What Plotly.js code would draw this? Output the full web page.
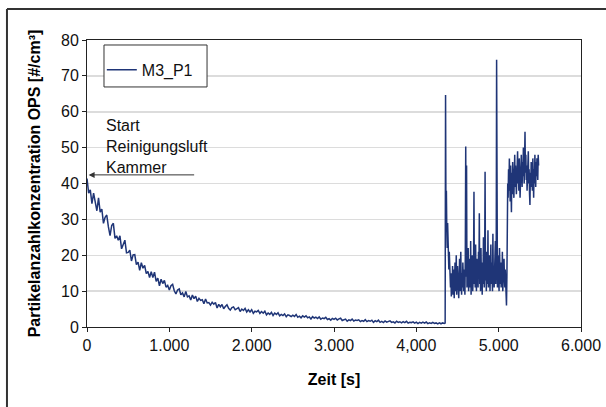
<!DOCTYPE html>
<html>
<head>
<meta charset="utf-8">
<script src="https://cdn.plot.ly/plotly-3.0.1.min.js"></script>
<style>
html,body{margin:0;padding:0;background:#fff;}
#chart{width:606px;height:407px;}
</style>
</head>
<body>
<div id="chart"></div>
<script>
// ---- Data ----
const seriesName = "M3_P1";

// Phase 1: decay after start of cleaning air, one reading every 20 s from t = 0 s
const decayStart = 0;
const decayStep = 20;
const decayValues = [
  41.4, 37.3, 38.2, 34.4, 37.3,  35.2, 32.4, 36.0, 32.0, 32.9,
  28.9, 30.6, 31.2, 27.9, 25.5,  28.3, 28.9, 24.7, 25.4, 24.2,
  25.4, 21.8, 23.3, 24.2, 20.7,  20.8, 21.4, 18.4, 20.1, 20.2,
  17.4, 18.1, 15.8, 17.9, 16.4,  17.2, 14.9, 15.5, 13.8, 15.4,
  13.8, 15.3, 12.7, 13.6, 11.5,  13.3, 12.1, 13.0, 11.1, 11.6,
  10.3, 11.5, 11.9, 10.1, 9.2,   10.3, 10.6, 9.0, 9.5, 8.4,
  9.9, 8.4, 8.7, 7.5, 8.9,       7.9, 8.6, 7.1, 8.0, 7.4,
  7.6, 6.5, 7.8, 6.7, 6.8,       6.1, 6.9, 6.35, 6.85, 5.3,
  6.3, 5.6, 6.3, 5.1, 5.7,       6.2, 5.2, 4.7, 5.4, 5.6,
  4.8, 5.0, 5.4, 4.3, 5.0,       4.6, 5.2, 4.2, 4.8, 4.2,
  4.8, 3.8, 4.4, 4.2, 4.6,       3.8, 4.3, 3.85, 4.4, 3.4,
  3.9, 3.5, 4.1, 3.2, 3.9,       3.5, 3.95, 3.1, 3.5, 3.2,
  3.65, 2.85, 3.4, 3.2, 2.9,     3.3, 2.95, 3.5, 2.7, 3.0,
  2.55, 3.1, 2.75, 3.1, 2.55,    2.8, 2.25, 2.9, 2.5, 2.75,
  2.35, 2.8, 2.15, 2.5, 2.35,    2.7, 2.1, 2.3, 1.9, 2.4,
  2.15, 2.45, 1.95, 2.25, 2.45,  1.8, 2.05, 2.2, 1.6, 2.0,
  1.8, 2.2, 1.65, 1.95, 1.8,     2.0, 1.5, 1.8, 1.6, 2.05,
  1.5, 1.8, 1.6, 1.9, 1.3,       1.75, 1.5, 1.9, 1.3, 1.55,
  1.25, 1.7, 1.35, 1.5, 1.7,     1.28, 1.45, 1.12, 1.63, 1.3,
  1.46, 1.14, 1.5, 1.24, 1.58,   1.08, 1.33, 1.23, 1.45, 1.07,
  1.35, 0.95, 1.28, 1.07, 1.36,  1.1, 1.38, 0.94, 1.15, 0.98,
  1.28, 1.0, 1.14, 0.85, 1.17,   0.9, 1.14, 1.0
];

// Phase 2: disturbed phase with spikes, one reading every 5 s from t = 4345 s
const burstStart = 4345;
const burstStep = 5;
const burstValues = [
  1.0, 1.1, 64.7, 30, 38, 27, 22, 29, 19, 24,
  16, 21, 13, 18, 11, 15, 8.5, 14, 10, 17,
  9, 12, 16, 8, 13, 18, 10, 14, 20, 9,
  12, 17, 11, 15, 8, 13, 19, 10, 16, 21,
  12, 9, 15, 11, 18, 13, 10, 16, 12, 9,
  20, 50.3, 14, 45, 11, 17, 13, 22, 10, 15,
  19, 11, 14, 24, 9, 16, 12, 20, 10, 14,
  17, 37.7, 12, 18, 11, 23, 14, 10, 19, 13,
  16, 11, 21, 14, 31.7, 12, 17, 10, 22, 13,
  15, 9, 18, 12, 25, 14, 11, 19, 43.3, 13,
  16, 10, 21, 15, 12, 27, 11, 17, 13, 20,
  10, 15, 23, 12, 18, 14, 10, 26, 13, 16,
  11, 19, 14, 24, 12, 17, 74.5, 15, 11, 20,
  13, 17, 10, 22, 14, 12, 18, 11, 16, 13,
  21, 10, 15, 12, 19, 14, 11, 16, 13, 10,
  6, 14, 32, 40, 36, 44, 38, 47, 41, 35,
  45, 39, 32, 43, 37, 46, 40, 44, 36, 42,
  48, 39, 45, 41, 37, 46, 43, 49, 40, 44,
  38, 47, 42, 36, 45, 41, 48, 43, 39, 46,
  42, 50, 44, 40, 47, 54.4, 43, 48, 41, 45,
  38, 46, 42, 49, 40, 44, 37, 34, 43, 39,
  46, 41, 45, 38, 47, 42, 36, 44, 40, 48,
  43, 39, 46, 42, 47, 44, 41, 48, 45
];

// Axis tick labels
const xTickVals = [0, 1000, 2000, 3000, 4000, 5000, 6000];
const xTickText = ["0", "1.000", "2.000", "3.000", "4,000", "5.000", "6.000"];
const yTickVals = [0, 10, 20, 30, 40, 50, 60, 70, 80];

// Annotation
const noteText = "Start<br>Reinigungsluft<br>Kammer";
const arrowLevel = 42.4;

// ---- Build trace ----
const t = [], y = [];
decayValues.forEach((v, i) => { t.push(decayStart + i * decayStep); y.push(v); });
burstValues.forEach((v, i) => { t.push(burstStart + i * burstStep); y.push(v); });

const font = "Liberation Sans, Arial, sans-serif";

const trace = {
  x: t, y: y, type: "scatter", mode: "lines", name: seriesName,
  line: {color: "#1f3577", width: 1.5}
};

const layout = {
  width: 606, height: 407,
  margin: {l: 87, r: 25, t: 40, b: 80, autoexpand: false},
  paper_bgcolor: "#fff", plot_bgcolor: "#fff",
  font: {family: font, size: 16, color: "#111"},
  showlegend: true,
  legend: {
    x: 0.03, y: 0.955, xanchor: "left", yanchor: "top",
    bgcolor: "rgba(0,0,0,0)", borderwidth: 0,
    font: {family: font, size: 16, color: "#111"},
    itemwidth: 30
  },
  xaxis: {
    range: [0, 6000], tickmode: "array", tickvals: xTickVals, ticktext: xTickText,
    showgrid: false, zeroline: false, showline: true, mirror: true,
    linecolor: "#222", linewidth: 1, ticks: "outside", ticklen: 4, tickcolor: "#222",
    tickfont: {family: font, size: 16, color: "#111"},
    title: {text: "Zeit [s]", font: {family: font, size: 16, color: "#000", weight: "bold"}, standoff: 20}
  },
  yaxis: {
    range: [0, 80], tickmode: "array", tickvals: yTickVals,
    showgrid: true, gridcolor: "#dcdcdc", gridwidth: 1.5, zeroline: false,
    showline: true, mirror: true, linecolor: "#222", linewidth: 1,
    ticks: "outside", ticklen: 4, tickcolor: "#222",
    tickfont: {family: font, size: 16, color: "#111"},
    title: {text: "Partikelanzahlkonzentration OPS [#/cm³]", font: {family: font, size: 16, color: "#000", weight: "bold"}, standoff: 16}
  },
  shapes: [
    // outer frame: left and top edges
    {type: "line", xref: "paper", yref: "paper", x0: -0.162, x1: -0.162, y0: -0.3, y1: 1.108,
     line: {color: "#333", width: 2}},
    {type: "line", xref: "paper", yref: "paper", x0: -0.162, x1: 1.1, y0: 1.108, y1: 1.108,
     line: {color: "#333", width: 2}},
    // legend box
    {type: "rect", xref: "paper", yref: "paper", x0: 0.0344, x1: 0.243, y0: 0.8364, y1: 0.9826,
     line: {color: "#333", width: 1}, fillcolor: "#fff", layer: "above"}
  ],
  annotations: [
    {x: 206, y: 50.2, xref: "x", yref: "y", text: noteText, showarrow: false,
     xanchor: "left", yanchor: "middle", align: "left",
     font: {family: font, size: 16, color: "#111"}},
    {x: 20, y: arrowLevel, xref: "x", yref: "y", text: "", showarrow: true,
     ax: 107, ay: 0, axref: "pixel", ayref: "pixel",
     arrowhead: 2, arrowsize: 1.2, arrowwidth: 1, arrowcolor: "#333"}
  ]
};

Plotly.newPlot("chart", [trace], layout, {staticPlot: true, displayModeBar: false});
</script>
</body>
</html>
